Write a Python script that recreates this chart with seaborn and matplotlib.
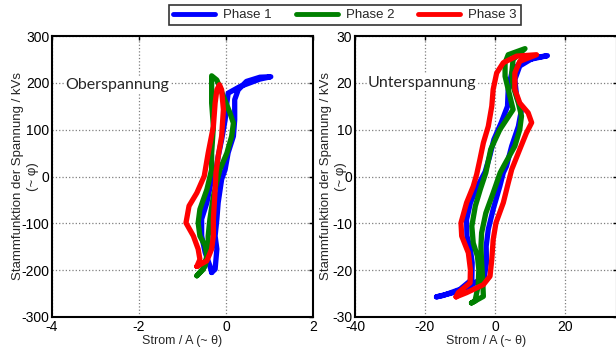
import numpy as np
import pandas as pd
import seaborn as sns
import matplotlib.pyplot as plt

# Oberspannung (left), current in A, flux in kVs
ober_p1_x = [-0.33, -0.25, -0.21, -0.25, -0.21, -0.18, -0.10, -0.02, 0.05, 0.17, 0.20, 0.20, 0.28, 0.47, 0.78, 1.03,
             0.78, 0.32, 0.05, 0.02, -0.02, -0.10, -0.18, -0.25, -0.33, -0.44, -0.56, -0.56, -0.48, -0.37, -0.33]
ober_p1_y = [-205, -198, -155, -127, -91, -56, -6, 15, 51, 86, 121, 164, 185, 203, 212, 213,
             208, 192, 178, 157, 121, 79, 43, 1, -6, -56, -91, -127, -162, -191, -205]
ober_p2_x = [-0.67, -0.52, -0.44, -0.48, -0.60, -0.64, -0.60, -0.44, -0.33, -0.33, -0.29, -0.33, -0.33, -0.33,
             -0.21, -0.06, 0.09, 0.17, 0.13, 0.02, -0.14, -0.29, -0.37, -0.41, -0.41, -0.48, -0.67]
ober_p2_y = [-212, -198, -170, -148, -127, -99, -70, -28, 15, 50, 107, 157, 199, 215,
             206, 171, 136, 114, 86, 50, 15, -42, -91, -127, -162, -191, -212]
ober_p3_x = [-0.67, -0.60, -0.64, -0.75, -0.92, -0.85, -0.67, -0.50, -0.41, -0.29, -0.25, -0.21, -0.15,
             -0.10, -0.06, -0.10, -0.18, -0.23, -0.25, -0.29, -0.29, -0.33, -0.44, -0.67]
ober_p3_y = [-192, -177, -155, -127, -99, -63, -35, 1, 50, 107, 157, 185, 196,
             185, 143, 86, 43, 8, -28, -91, -127, -155, -180, -192]

# Unterspannung (right)
unter_p1_x = [-16.7, -11.9, -7.1, -3.0, -2.4, -2.5, -1.9, -0.5, 1.4, 2.4, 3.3, 4.8, 6.7, 7.6, 6.2, 5.7, 7.1, 10.9, 15.0,
              10.0, 7.1, 4.8, 3.8, 3.6, 1.8, -0.3, -1.5, -2.8, -5.0, -7.0, -8.1, -8.0, -7.0, -6.5, -6.6, -10.0, -14.8, -16.7]
unter_p1_y = [-25.7, -24.8, -23.4, -21.3, -18.4, -14.9, -11.3, -7.0, -2.1, 0.8, 2.2, 6.5, 10.7, 14.3, 17.1, 20.7, 23.6, 25.3, 25.8,
              25.0, 24.3, 22.1, 18.6, 15.0, 11.5, 7.9, 4.3, 1.0, -2.1, -5.6, -9.2, -12.7, -15.6, -18.4, -22.0, -24.1, -25.4, -25.7]
unter_p2_x = [-6.7, -3.3, -3.5, -3.8, -4.0, -3.8, -2.6, -0.5, 1.5, 2.5, 5.7, 7.1, 7.6, 6.7, 5.2, 4.8, 5.2, 8.6,
              3.8, 2.9, 2.9, 3.8, 5.2, 1.4, -1.2, -2.6, -4.2, -5.6, -6.6, -6.2, -5.0, -4.6, -4.8, -5.7, -6.7]
unter_p2_y = [-27.0, -25.6, -22.0, -18.4, -14.9, -12.0, -7.8, -3.5, 0.8, 2.2, 6.5, 10.0, 12.9, 15.7, 19.3, 22.1, 25.0, 27.3,
              26.0, 24.3, 21.4, 18.6, 14.3, 10.0, 5.8, 0.8, -2.8, -6.3, -10.6, -14.2, -17.0, -19.9, -23.4, -26.6, -27.0]
unter_p3_x = [-11.1, -8.1, -3.3, -1.4, -0.9, -0.5, 0.3, 2.4, 3.8, 4.8, 7.1, 9.0, 10.5, 9.5, 7.1, 5.7, 5.7, 7.1, 11.9,
              6.2, 2.4, 0.5, -0.5, -0.9, -1.9, -3.3, -4.3, -5.2, -6.2, -8.1, -9.7, -9.5, -7.6, -7.0, -7.1, -10.5, -11.1]
unter_p3_y = [-25.7, -24.8, -23.1, -21.3, -17.7, -13.5, -9.9, -5.6, -1.4, 1.5, 5.8, 9.3, 11.5, 13.6, 15.7, 18.6, 22.1, 24.6, 26.0,
              25.7, 24.3, 22.1, 18.6, 15.0, 10.7, 7.2, 3.6, 0.5, -2.1, -5.6, -9.9, -12.7, -16.3, -19.9, -22.7, -24.8, -25.7]

phases = ['Phase 1', 'Phase 2', 'Phase 3']
colors = ['#0000ff', '#008000', '#ff0000']


def make_df(xs, ys):
    parts = []
    for ph, x, y in zip(phases, xs, ys):
        parts.append(pd.DataFrame({'Phase': ph, 'I': x, 'Psi': y, 'k': np.arange(len(x))}))
    return pd.concat(parts, ignore_index=True)


df_ober = make_df([ober_p1_x, ober_p2_x, ober_p3_x], [ober_p1_y, ober_p2_y, ober_p3_y])
df_unter = make_df([unter_p1_x, unter_p2_x, unter_p3_x], [unter_p1_y, unter_p2_y, unter_p3_y])

sns.set_style('white')
plt.rcParams['font.family'] = ['Liberation Sans', 'DejaVu Sans']
plt.rcParams['font.size'] = 9
plt.rcParams['axes.unicode_minus'] = False

fig = plt.figure(figsize=(6.16, 3.56), dpi=100)
ax1 = fig.add_axes([52 / 616, 1 - 317 / 356, 261 / 616, 281 / 356])
ax2 = fig.add_axes([355 / 616, 1 - 317 / 356, 262 / 616, 281 / 356])

for ax, data, xlim, xt, ylim, yt, title, tx, ty in [
        (ax1, df_ober, (-4, 2), [-4, -2, 0, 2], (-300, 300), np.arange(-300, 301, 100), 'Oberspannung', -3.7, 196),
        (ax2, df_unter, (-40, 34.9), [-40, -20, 0, 20], (-30, 30), np.arange(-30, 31, 10), 'Unterspannung', -36.3, 20)]:
    sns.lineplot(data=data, x='I', y='Psi', hue='Phase', palette=colors, sort=False, estimator=None,
                 units='Phase', lw=3.8, ax=ax, legend=(ax is ax1))
    ax.set_xlim(*xlim)
    ax.set_ylim(*ylim)
    ax.set_xticks(xt)
    ax.set_yticks(yt)
    ax.grid(True, color='#7f7f7f', ls=':', lw=0.9)
    ax.tick_params(direction='in', length=3, width=1, top=True, right=True, labelsize=10, pad=2, colors='black')
    for s in ax.spines.values():
        s.set_color('black')
        s.set_linewidth(1.5)
    ax.set_xlabel('Strom / A (~ θ)', fontsize=9, labelpad=1)
    ax.set_ylabel('Stammfunktion der Spannung / kVs\n(~ φ)', fontsize=9.5, linespacing=1.35)
    ax.text(tx, ty, title, family=['Lato', 'DejaVu Sans'], fontsize=11.5, va='center', ha='left',
            bbox=dict(facecolor='white', edgecolor='none', pad=1))

ax1.yaxis.set_label_coords(-0.05, 0.5)
ax2.yaxis.set_label_coords(-0.03, 0.5)

handles, labels = ax1.get_legend_handles_labels()
ax1.get_legend().remove()
leg = fig.legend(handles, labels, loc='center', bbox_to_anchor=(345 / 616, 1 - 15 / 356), ncol=3,
                 frameon=True, fancybox=False, edgecolor='black', fontsize=9.5, handlelength=3.2,
                 columnspacing=1.8, borderpad=0.3, handletextpad=0.6)
leg.get_frame().set_linewidth(1.2)
for h in leg.legend_handles:
    h.set_linewidth(3.5)

fig.savefig('out.png', dpi=100)
